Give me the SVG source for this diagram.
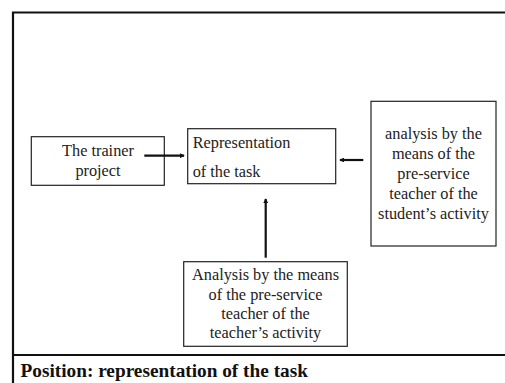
<svg xmlns="http://www.w3.org/2000/svg" width="505" height="383" viewBox="0 0 505 383">
  <style>
    .box { fill: #fff; stroke: #222; stroke-width: 1.2; }
    .t { font-family: "Liberation Serif", "Times New Roman", serif; font-size: 16.3px; fill: #222; }
    .c { text-anchor: middle; }
    .frame { stroke: #111; stroke-width: 2.2; fill: none; }
    .conn { stroke: #111; stroke-width: 2.2; fill: none; }
    .title { font-family: "Liberation Serif", "Times New Roman", serif; font-size: 19.3px; font-weight: bold; fill: #111; }
  </style>
  <defs>
    <marker id="head" viewBox="0 0 6 6" refX="5" refY="3" markerWidth="2.2" markerHeight="2.2" orient="auto" markerUnits="strokeWidth">
      <path d="M0,0 L6,3 L0,6 z" fill="#111"/>
    </marker>
  </defs>
  <rect width="505" height="383" fill="#fff"/>

  <!-- outer frame and caption strip -->
  <g id="frame">
    <path class="frame" d="M13,390 L13,12.5 L510,12.5"/>
    <line class="frame" x1="13" y1="355" x2="510" y2="355"/>
    <text class="title" x="20.5" y="376.5">Position: representation of the task</text>
  </g>

  <g id="trainer-project">
    <rect class="box" x="31.3" y="136.7" width="133" height="48.6"/>
    <text class="t c" x="98" y="156">The trainer</text>
    <text class="t c" x="98" y="175.5">project</text>
  </g>

  <g id="representation">
    <rect class="box" x="187.7" y="128.7" width="148" height="55"/>
    <text class="t" x="192.7" y="147.7">Representation</text>
    <text class="t" x="192.7" y="176.7">of the task</text>
  </g>

  <g id="student-analysis">
    <rect class="box" x="371" y="101.3" width="125" height="144.7"/>
    <text class="t c" x="433.5" y="139.3">analysis by the</text>
    <text class="t c" x="433.5" y="159.3">means of the</text>
    <text class="t c" x="433.5" y="179.3">pre-service</text>
    <text class="t c" x="433.5" y="199.3">teacher of the</text>
    <text class="t c" x="433.5" y="218.5">student’s activity</text>
  </g>

  <g id="teacher-analysis">
    <rect class="box" x="183.7" y="261.7" width="163.6" height="84.6"/>
    <text class="t c" x="265.5" y="280">Analysis by the means</text>
    <text class="t c" x="265.5" y="300">of the pre-service</text>
    <text class="t c" x="265.5" y="319.3">teacher of the</text>
    <text class="t c" x="265.5" y="338.3">teacher’s activity</text>
  </g>

  <g id="connectors">
    <line class="conn" x1="144.3" y1="155.7" x2="184" y2="155.7" marker-end="url(#head)"/>
    <line class="conn" x1="363.3" y1="160" x2="340" y2="160" marker-end="url(#head)"/>
    <line class="conn" x1="265.7" y1="257.7" x2="265.7" y2="199" marker-end="url(#head)"/>
  </g>
</svg>
